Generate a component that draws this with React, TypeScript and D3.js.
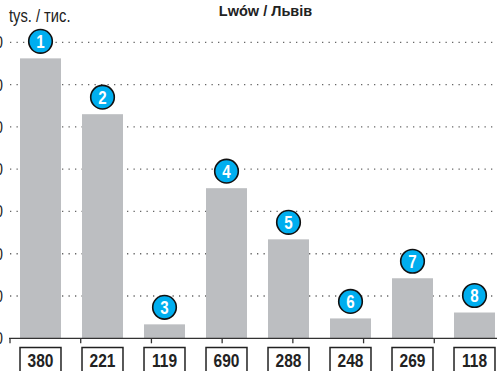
import * as d3 from "d3";

const title = "Lwów / Львів";
const unitLabel = "tys. / тис.";
const markers = ["1", "2", "3", "4", "5", "6", "7", "8"];
const values = [662, 530, 33, 355, 234, 47, 142, 61];
const boxLabels = ["380", "221", "119", "690", "288", "248", "269", "118"];
const yTicks = [0, 100, 200, 300, 400, 500, 600, 700];
const axisTicks = [0, 1, 2, 3, 4, 5, 6, 7];

const W = 497;
const H = 371;
const font = "'Liberation Sans', Arial, sans-serif";

// no narrow face installed, so squeeze the regular one
function Narrow({ x, y, anchor = "start", size, bold = false, fill = "#222", children }: any) {
  return (
    <text
      transform={`translate(${x},${y}) scale(0.84,1)`}
      textAnchor={anchor}
      fontFamily={font}
      fontWeight={bold ? "bold" : "normal"}
      fontSize={size}
      fill={fill}
    >
      {children}
    </text>
  );
}

export default function App() {
  const x = d3
    .scaleBand<string>()
    .domain(markers)
    .range([9.5, 505.5])
    .paddingInner(0.339)
    .paddingOuter(0.1695);
  const y = d3.scaleLinear().domain([0, 700]).range([338.3, 42.3]);
  // the little ticks under the baseline don't follow the bars
  const tickX = d3.scaleLinear().domain([0, 7]).range([10, 505]);
  const bw = x.bandwidth();

  return (
    <svg
      width={W}
      height={H}
      style={{ position: "absolute", left: 0, top: 0, background: "#fff" }}
    >
      {/* grid */}
      {yTicks.slice(1).map((t) => (
        <line
          key={t}
          x1={10}
          x2={W}
          y1={y(t)}
          y2={y(t)}
          stroke="#666"
          strokeWidth={1.3}
          strokeDasharray="1.3 5.2"
        />
      ))}
      {/* y labels, cut off by the left edge like in the print */}
      {yTicks.map((t) => (
        <Narrow key={t} x={3} y={y(t) + 6} anchor="end" size={17}>
          {t}
        </Narrow>
      ))}

      {/* bars */}
      {markers.map((m, i) => (
        <rect
          key={m}
          x={x(m)}
          y={y(values[i])}
          width={bw}
          height={y(0) - y(values[i])}
          fill="#bcbec1"
        />
      ))}

      {/* baseline */}
      <line x1={9} x2={W} y1={y(0)} y2={y(0)} stroke="#333" strokeWidth={1.3} />
      {axisTicks.map((t) => (
        <line
          key={t}
          x1={tickX(t)}
          x2={tickX(t)}
          y1={y(0)}
          y2={y(0) + 5}
          stroke="#333"
          strokeWidth={1.3}
        />
      ))}

      {/* numbered circles */}
      {markers.map((m, i) => {
        const cx = (x(m) ?? 0) + bw / 2;
        const cy = y(values[i]) - 17;
        return (
          <g key={m}>
            <circle cx={cx} cy={cy} r={11.8} fill="#00aeef" stroke="#111" strokeWidth={1.6} />
            <Narrow x={cx} y={cy + 6.5} anchor="middle" size={18} bold fill="#fff">
              {m}
            </Narrow>
          </g>
        );
      })}

      {/* value boxes */}
      {markers.map((m, i) => (
        <g key={m}>
          <rect
            x={x(m)}
            y={347.5}
            width={bw}
            height={30}
            fill="#fff"
            stroke="#222"
            strokeWidth={1.5}
          />
          <Narrow x={(x(m) ?? 0) + bw / 2} y={367} anchor="middle" size={18.5} bold>
            {boxLabels[i]}
          </Narrow>
        </g>
      ))}

      <Narrow x={9} y={22} size={17.5}>
        {unitLabel}
      </Narrow>
      <text
        x={265.5}
        y={16}
        textAnchor="middle"
        fontFamily={font}
        fontWeight="bold"
        fontSize={14.5}
        fill="#222"
      >
        {title}
      </text>
    </svg>
  );
}
